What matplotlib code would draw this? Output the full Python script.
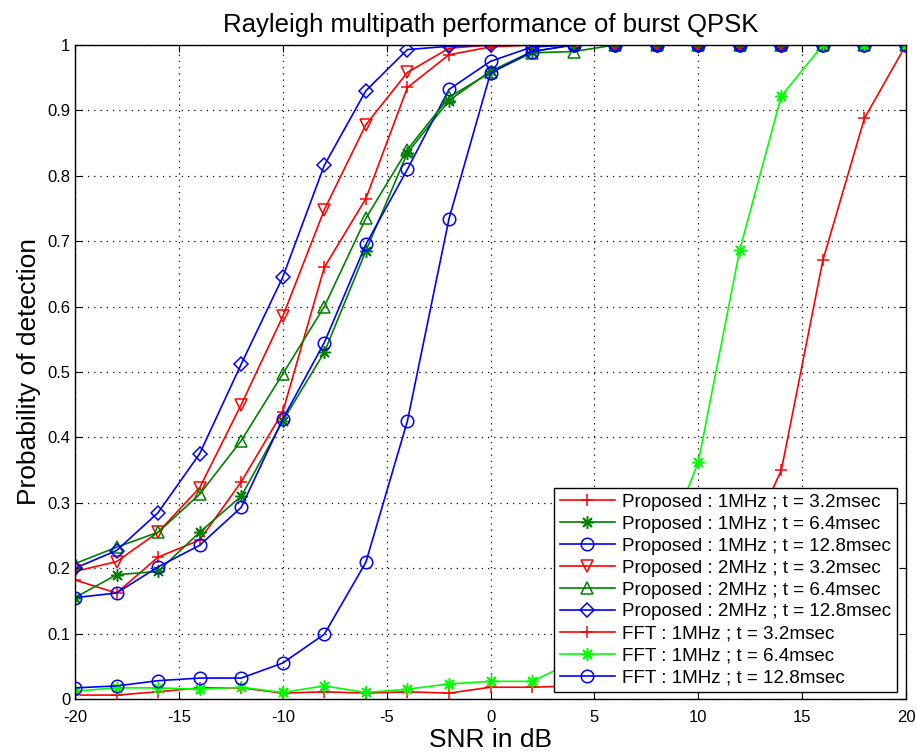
import numpy as np
import matplotlib.pyplot as plt

plt.rcParams['font.family'] = ['Liberation Sans', 'DejaVu Sans']
plt.rcParams['axes.unicode_minus'] = False

snr = np.arange(-20, 21, 2)

# Proposed method, 1MHz
prop_1m_32 = [0.182, 0.162, 0.217, 0.243, 0.332, 0.439, 0.66, 0.765, 0.935, 0.985, 0.997,
              1, 1, 1, 1, 1, 1, 1, 1, 1, 1]
prop_1m_64 = [0.155, 0.19, 0.195, 0.255, 0.31, 0.425, 0.53, 0.685, 0.835, 0.915, 0.96,
              0.99, 1, 1, 1, 1, 1, 1, 1, 1, 1]
prop_1m_128 = [0.155, 0.162, 0.202, 0.235, 0.293, 0.428, 0.545, 0.695, 0.81, 0.932, 0.975,
               0.997, 1, 1, 1, 1, 1, 1, 1, 1, 1]
# Proposed method, 2MHz
prop_2m_32 = [0.195, 0.21, 0.255, 0.323, 0.45, 0.585, 0.748, 0.878, 0.958, 0.995, 1,
              1, 1, 1, 1, 1, 1, 1, 1, 1, 1]
prop_2m_64 = [0.207, 0.232, 0.255, 0.313, 0.395, 0.497, 0.6, 0.735, 0.84, 0.92, 0.958,
              0.988, 0.99, 1, 1, 1, 1, 1, 1, 1, 1]
prop_2m_128 = [0.2, 0.227, 0.285, 0.375, 0.512, 0.645, 0.816, 0.93, 0.993, 0.998, 1,
               1, 1, 1, 1, 1, 1, 1, 1, 1, 1]
# FFT method, 1MHz
fft_32 = [0.006, 0.006, 0.011, 0.017, 0.017, 0.009, 0.011, 0.009, 0.011, 0.009, 0.018,
          0.018, 0.02, 0.022, 0.03, 0.06, 0.21, 0.35, 0.671, 0.888, 1]
fft_64 = [0.012, 0.017, 0.017, 0.015, 0.018, 0.01, 0.02, 0.01, 0.015, 0.023, 0.027,
          0.027, 0.057, 0.1, 0.2, 0.362, 0.687, 0.922, 1, 1, 1]
fft_128 = [0.017, 0.02, 0.028, 0.032, 0.032, 0.055, 0.099, 0.209, 0.425, 0.734, 0.957,
           0.99, 1, 1, 1, 1, 1, 1, 1, 1, 1]

labels = ['Proposed : 1MHz ; t = 3.2msec', 'Proposed : 1MHz ; t = 6.4msec',
          'Proposed : 1MHz ; t = 12.8msec', 'Proposed : 2MHz ; t = 3.2msec',
          'Proposed : 2MHz ; t = 6.4msec', 'Proposed : 2MHz ; t = 12.8msec',
          'FFT : 1MHz ; t = 3.2msec', 'FFT : 1MHz ; t = 6.4msec',
          'FFT : 1MHz ; t = 12.8msec']

red = '#ff0000'
dgreen = '#008000'
blue = '#0000ff'
lime = '#00ff00'
star = (8, 2, 0)  # matlab style asterisk

series = [
    (prop_1m_32, red, '+'),
    (prop_1m_64, dgreen, star),
    (prop_1m_128, blue, 'o'),
    (prop_2m_32, red, 'v'),
    (prop_2m_64, dgreen, '^'),
    (prop_2m_128, blue, 'D'),
    (fft_32, red, '+'),
    (fft_64, lime, star),
    (fft_128, blue, 'o'),
]

fig = plt.figure(figsize=(9.17, 7.56), dpi=100)
ax = fig.add_axes([0.0818, 0.0754, 0.9062, 0.8651])

for (vals, col, mk), lab in zip(series, labels):
    ms = 7 if mk == 'D' else 9
    ax.plot(snr, vals, color=col, marker=mk, markersize=ms, markerfacecolor='none',
            markeredgecolor=col, markeredgewidth=1.1, linewidth=1.2, label=lab)

ax.set_xlim(-20, 20)
ax.set_ylim(0, 1)
ax.set_xticks(np.arange(-20, 21, 5))
ax.set_yticks(np.arange(0, 1.01, 0.1))
ax.set_yticklabels(['0', '0.1', '0.2', '0.3', '0.4', '0.5', '0.6', '0.7', '0.8', '0.9', '1'])
ax.tick_params(direction='in', top=True, right=True, labelsize=12, length=5)
ax.tick_params(axis='x', pad=8)
ax.grid(True, color='black', linestyle=(0, (1, 4)), linewidth=0.9)
for s in ax.spines.values():
    s.set_linewidth(1.0)

ax.set_title('Rayleigh multipath performance of burst QPSK', fontsize=18.5, pad=9)
ax.set_xlabel('SNR in dB', fontsize=19, labelpad=2)
ax.set_ylabel('Probability of detection', fontsize=19, labelpad=4)

leg = ax.legend(loc='lower right', bbox_to_anchor=(0.989, 0.0107), fontsize=13.6,
                fancybox=False, edgecolor='black', framealpha=1, handlelength=2.9,
                borderpad=0.3, labelspacing=0.25, handletextpad=0.4, borderaxespad=0)
leg.get_frame().set_linewidth(1.0)

fig.savefig('out.png', dpi=100)
